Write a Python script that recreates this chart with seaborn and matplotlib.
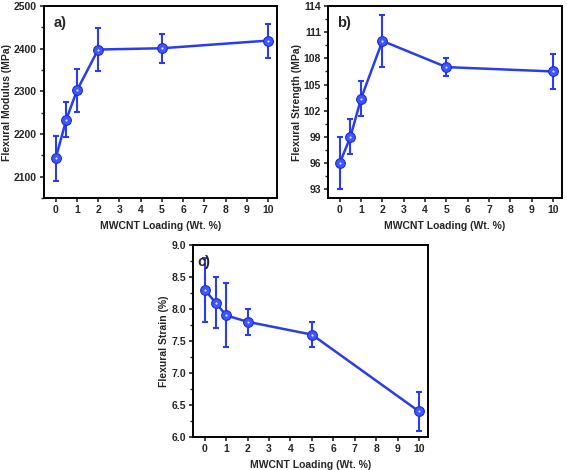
import matplotlib
matplotlib.use("Agg")
import matplotlib.pyplot as plt
import seaborn as sns
import pandas as pd
from matplotlib.ticker import MultipleLocator, AutoMinorLocator, FormatStrFormatter

sns.set_style("ticks")
plt.rcParams["font.family"] = ["Liberation Sans", "DejaVu Sans"]
plt.rcParams["font.weight"] = "bold"

loading = [0, 0.5, 1, 2, 5, 10]

modulus = [2143, 2234, 2302, 2398, 2401, 2419]
modulus_err = [53, 41, 51, 50, 34, 40]

strength = [96, 99, 103.4, 110, 107, 106.5]
strength_err = [3, 2, 2, 3, 1, 2]

strain = [8.3, 8.1, 7.9, 7.8, 7.6, 6.4]
strain_err = [0.5, 0.4, 0.5, 0.2, 0.2, 0.3]

panels = [
    ("a)", modulus, modulus_err, "Flexural Modulus (MPa)", (2050, 2500), 100, [0.0776, 0.5787, 0.411, 0.4085]),
    ("b)", strength, strength_err, "Flexural Strength (MPa)", (92, 114), 3, [0.5785, 0.5787, 0.4127, 0.4085]),
    ("c)", strain, strain_err, "Flexural Strain (%)", (6.0, 9.0), 0.5, [0.3404, 0.0702, 0.4145, 0.4085]),
]

BLUE = "#2a3cf0"

fig = plt.figure(figsize=(5.67, 4.70), dpi=100)

for tag, vals, errs, ylabel, ylim, step, pos in panels:
    ax = fig.add_axes(pos)
    df = pd.DataFrame({"x": loading, "y": vals})
    ax.errorbar(loading, vals, yerr=errs, fmt="none", ecolor=BLUE,
                elinewidth=1.5, capsize=2.5, capthick=1.5, zorder=2)
    sns.lineplot(data=df, x="x", y="y", ax=ax, color=BLUE, linewidth=1.8,
                 marker="o", markersize=7, markerfacecolor="#3f56ff",
                 markeredgecolor="#1c2bd0", markeredgewidth=0.8, zorder=3)
    # small highlight inside the markers
    sns.scatterplot(data=df, x="x", y="y", ax=ax, color="#dde4ff", s=2.5,
                    linewidth=0, zorder=4, legend=False)
    ax.set_xlim(-0.55, 10.42)
    ax.set_ylim(*ylim)
    ax.xaxis.set_major_locator(MultipleLocator(1))
    ax.yaxis.set_major_locator(MultipleLocator(step))
    ax.yaxis.set_minor_locator(AutoMinorLocator(2))
    if tag == "c)":
        ax.yaxis.set_major_formatter(FormatStrFormatter("%.1f"))
    ax.set_xlabel("MWCNT Loading (Wt. %)", fontsize=7.5, fontweight="bold", labelpad=4)
    ax.set_ylabel(ylabel, fontsize=7.5, fontweight="bold", labelpad=1.5)
    ax.tick_params(axis="both", which="major", labelsize=7.5, length=3, width=1.2, direction="out", pad=2)
    ax.tick_params(axis="y", which="minor", length=2, width=1.0, direction="out")
    for lab in ax.get_xticklabels() + ax.get_yticklabels():
        lab.set_fontweight("bold")
    for sp in ax.spines.values():
        sp.set_visible(True)
        sp.set_linewidth(1.4)
        sp.set_color("black")
    xoff = 0.02 if tag == "c)" else 0.04
    ax.text(xoff, 0.95, tag, transform=ax.transAxes, fontsize=10.5,
            fontweight="bold", va="top", ha="left")

fig.savefig("out.png", dpi=100)
